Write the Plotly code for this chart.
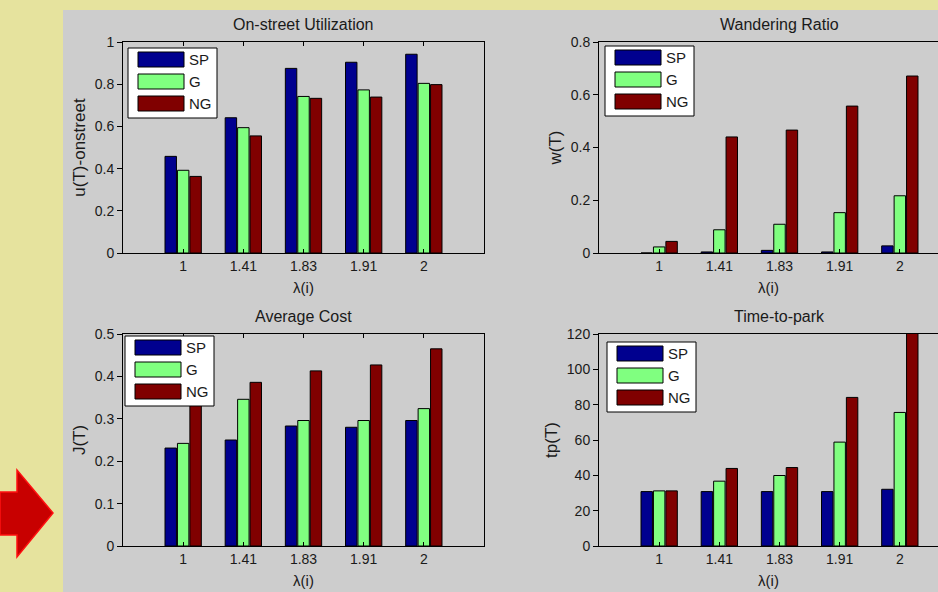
import plotly.graph_objects as go

W, H = 938, 592

categories = ["1", "1.41", "1.83", "1.91", "2"]
series_names = ["SP", "G", "NG"]
series_colors = ["#00008F", "#80FF80", "#800000"]

util_SP = [0.458, 0.641, 0.875, 0.904, 0.942]
util_G = [0.392, 0.594, 0.742, 0.773, 0.804]
util_NG = [0.363, 0.555, 0.733, 0.739, 0.798]

wander_SP = [0.0, 0.004, 0.010, 0.004, 0.027]
wander_G = [0.023, 0.088, 0.109, 0.153, 0.217]
wander_NG = [0.044, 0.440, 0.466, 0.557, 0.671]

cost_SP = [0.231, 0.250, 0.283, 0.280, 0.296]
cost_G = [0.242, 0.346, 0.296, 0.296, 0.324]
cost_NG = [0.360, 0.386, 0.413, 0.427, 0.465]

park_SP = [30.8, 30.8, 30.8, 30.8, 32.1]
park_G = [31.2, 36.7, 39.9, 58.8, 75.6]
park_NG = [31.2, 43.9, 44.4, 84.1, 122.0]

panels = [
    dict(title="On-street Utilization", ylabel="u(T)-onstreet", data=[util_SP, util_G, util_NG],
         yrange=[0, 1], ytickvals=[0, 0.2, 0.4, 0.6, 0.8, 1], yticktext=["0", "0.2", "0.4", "0.6", "0.8", "1"],
         box=(123, 42, 484, 253), right=False, leg=(128, 48)),
    dict(title="Wandering Ratio", ylabel="w(T)", data=[wander_SP, wander_G, wander_NG],
         yrange=[0, 0.8], ytickvals=[0, 0.2, 0.4, 0.6, 0.8], yticktext=["0", "0.2", "0.4", "0.6", "0.8"],
         box=(599, 42, 960, 253), right=True, leg=(605, 46)),
    dict(title="Average Cost", ylabel="J(T)", data=[cost_SP, cost_G, cost_NG],
         yrange=[0, 0.5], ytickvals=[0, 0.1, 0.2, 0.3, 0.4, 0.5], yticktext=["0", "0.1", "0.2", "0.3", "0.4", "0.5"],
         box=(123, 334, 484, 546), right=False, leg=(125, 336)),
    dict(title="Time-to-park", ylabel="tp(T)", data=[park_SP, park_G, park_NG],
         yrange=[0, 120], ytickvals=[0, 20, 40, 60, 80, 100, 120], yticktext=["0", "20", "40", "60", "80", "100", "120"],
         box=(599, 334, 960, 546), right=True, leg=(607, 342)),
]

FONT = "Liberation Sans, Arial, sans-serif"
TXT = "#1a1a1a"


def fx(px):
    return px / W


def fy(py):
    return 1 - py / H


fig = go.Figure()
shapes = []
annotations = []

# background decorations
shapes.append(dict(type="rect", xref="paper", yref="paper", x0=fx(63), x1=1, y0=0, y1=fy(10),
                   fillcolor="#CDCDCD", line=dict(width=0), layer="below"))
arrow = [(0, 492), (17, 492), (17, 470), (53, 513), (17, 557), (17, 535), (0, 535)]
path = "M " + " L ".join(f"{fx(a)},{fy(b)}" for a, b in arrow) + " Z"
shapes.append(dict(type="path", xref="paper", yref="paper", path=path,
                   fillcolor="#C80000", line=dict(color="#FF1010", width=1.5), layer="below"))

layout_axes = {}
for i, p in enumerate(panels):
    n = "" if i == 0 else str(i + 1)
    x0, y0, x1, y1 = p["box"]
    unit = (x1 - x0) / 6.0
    if p["right"]:
        xr = [-1, -1 + (W - x0) / unit]
        xdom = [fx(x0), 1]
    else:
        xr = [-1, 5]
        xdom = [fx(x0), fx(x1)]
    for s in range(3):
        fig.add_trace(go.Bar(x=categories, y=p["data"][s], name=series_names[s],
                             marker=dict(color=series_colors[s], line=dict(color="black", width=1)),
                             xaxis="x" + n, yaxis="y" + n, showlegend=False))
    layout_axes["xaxis" + n] = dict(
        domain=xdom, range=xr, anchor="y" + n, type="category", automargin=False,
        showline=True, linecolor="black", linewidth=1, mirror="ticks" if not p["right"] else True,
        ticks="inside", ticklen=4, tickcolor="black", showgrid=False, zeroline=False,
        tickfont=dict(family=FONT, size=14, color=TXT),
        title=dict(text="λ(i)", font=dict(family=FONT, size=15, color=TXT), standoff=9),
        fixedrange=True)
    layout_axes["yaxis" + n] = dict(
        domain=[fy(y1), fy(y0)], range=p["yrange"], anchor="x" + n, automargin=False,
        showline=True, linecolor="black", linewidth=1, mirror=True if not p["right"] else False,
        ticks="outside", ticklen=5, tickcolor="black", showgrid=False, zeroline=False,
        tickvals=p["ytickvals"], ticktext=p["yticktext"],
        tickfont=dict(family=FONT, size=14, color=TXT),
        title=dict(text=p["ylabel"], font=dict(family=FONT, size=17, color=TXT), standoff=4),
        fixedrange=True)
    # subplot title
    annotations.append(dict(text=p["title"], xref="paper", yref="paper", x=fx((x0 + x1) / 2), y=fy(y0 - 7),
                            xanchor="center", yanchor="bottom", showarrow=False,
                            font=dict(family=FONT, size=16, color=TXT)))
    # legend box
    lx, ly = p["leg"]
    shapes.append(dict(type="rect", xref="paper", yref="paper", x0=fx(lx), x1=fx(lx + 89), y0=fy(ly + 70), y1=fy(ly),
                       fillcolor="white", line=dict(color="black", width=1), layer="above"))
    for s in range(3):
        ty = ly + 4 + 22 * s
        shapes.append(dict(type="rect", xref="paper", yref="paper", x0=fx(lx + 10), x1=fx(lx + 56),
                           y0=fy(ty + 15), y1=fy(ty), fillcolor=series_colors[s],
                           line=dict(color="black", width=1), layer="above"))
        annotations.append(dict(text=series_names[s], xref="paper", yref="paper", x=fx(lx + 59), y=fy(ty + 7.5),
                                xanchor="left", yanchor="middle", showarrow=False,
                                font=dict(family=FONT, size=15, color=TXT)))

fig.update_layout(
    width=W, height=H, margin=dict(l=0, r=0, t=0, b=0, pad=0, autoexpand=False),
    paper_bgcolor="#E6E39E", plot_bgcolor="white",
    barmode="group", bargap=0.38, bargroupgap=0.08,
    shapes=shapes, annotations=annotations, showlegend=False,
    **layout_axes,
)

page_fix = (
    "var d=document.documentElement,b=document.body;"
    "[d,b].forEach(function(e){e.style.margin='0';e.style.padding='0';e.style.overflow='hidden';"
    "e.style.width='938px';e.style.height='592px';e.style.background='#E6E39E';});"
    "var g=document.getElementById('{plot_id}');"
    "g.style.position='fixed';g.style.left='0px';g.style.top='0px';"
)

fig.write_html(
    "out.html",
    config={"displayModeBar": False},
    post_script=page_fix,
)
